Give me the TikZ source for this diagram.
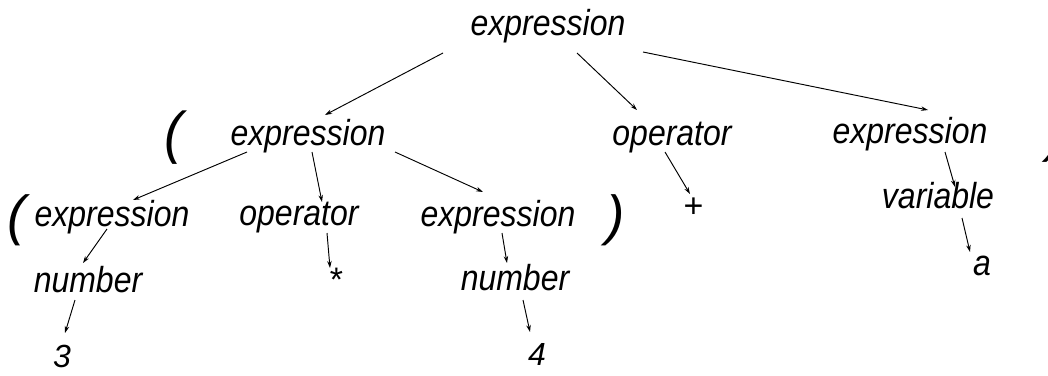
\documentclass[tikz,border=0pt]{standalone}
\usepackage{fontspec}
\usepackage{graphicx}
\setmainfont{Liberation Sans}
\usetikzlibrary{arrows.meta}
\newcommand\tallt[1]{\scalebox{1}[1.13]{#1}}
\tikzset{
  lbl/.style={inner sep=0pt, anchor=base, font=\fontsize{32}{38}\selectfont\itshape},
  sym/.style={inner sep=0pt, anchor=center, font=\fontsize{34}{40}\selectfont\itshape},
  par/.style={inner sep=0pt, anchor=center, font=\fontsize{50}{56}\selectfont\itshape},
  arr/.style={-{Stealth[length=7pt,width=4.5pt]}, line width=0.95pt}
}
\begin{document}
\begin{tikzpicture}[x=1pt,y=-1pt]
\useasboundingbox (0,0) rectangle (1048,375);
% nodes
\node[lbl] (top) at (548,35) {\tallt{expression}};
\node[lbl] (midL) at (308,145) {\tallt{expression}};
\node[lbl] (midOp) at (672,145) {\tallt{operator}};
\node[lbl] (rightE) at (910,143) {\tallt{expression}};
\node[lbl] (lowL) at (112,226) {\tallt{expression}};
\node[lbl] (lowOp) at (299,225) {\tallt{operator}};
\node[lbl] (lowR) at (498,226) {\tallt{expression}};
\node[lbl] (numL) at (88,292) {\tallt{number}};
\node[lbl] (numR) at (515,290) {\tallt{number}};
\node[sym] (star) at (335,280) {*};
\node[sym] (plus) at (693,208) {+};
\node[lbl] (three) at (62,367) {3};
\node[lbl] (four) at (537,365) {4};
\node[lbl] (var) at (938,208) {\tallt{variable}};
\node[lbl] (a) at (982,275) {\tallt{a}};
% parentheses
\node[par] (lpA) at (174,138) {\scalebox{1.1}[1.15]{(}};
\node[par] (lpB) at (17,220) {\scalebox{1.1}[1.1]{(}};
\node[par] (rpB) at (616,220) {\scalebox{1.1}[1.1]{)}};
\node[par] (rpA) at (1057,136) {\scalebox{1.1}[1.15]{)}};
% connectors
\draw[arr] ([xshift=-105pt,yshift=-18pt]top.base) -- ([xshift=17pt,yshift=30pt]midL.base);
\draw[arr] ([xshift=29pt,yshift=-18pt]top.base) -- ([xshift=-35pt,yshift=35pt]midOp.base);
\draw[arr] ([xshift=95pt,yshift=-17pt]top.base) -- ([xshift=18pt,yshift=33pt]rightE.base);
\draw[arr] ([xshift=-61pt,yshift=-7pt]midL.base) -- ([xshift=21pt,yshift=26pt]lowL.base);
\draw[arr] ([xshift=4pt,yshift=-7pt]midL.base) -- ([xshift=23pt,yshift=23pt]lowOp.base);
\draw[arr] ([xshift=87pt,yshift=-7pt]midL.base) -- ([xshift=-15pt,yshift=34pt]lowR.base);
\draw[arr] ([xshift=-5pt,yshift=-3pt]lowL.base) -- ([xshift=-5pt,yshift=29pt]numL.base);
\draw[arr] ([xshift=-13pt,yshift=-8pt]numL.base) -- ([xshift=3pt,yshift=34pt]three.base);
\draw[arr] ([xshift=28pt,yshift=-8pt]lowOp.base) -- ([xshift=-5pt,yshift=12pt]star.center);
\draw[arr] ([xshift=4pt,yshift=-7pt]lowR.base) -- ([xshift=-8pt,yshift=27pt]numR.base);
\draw[arr] ([xshift=8pt,yshift=-10pt]numR.base) -- ([xshift=-7pt,yshift=33pt]four.base);
\draw[arr] ([xshift=-7pt,yshift=-7pt]midOp.base) -- ([xshift=-3pt,yshift=14pt]plus.center);
\draw[arr] ([xshift=35pt,yshift=-9pt]rightE.base) -- ([xshift=17pt,yshift=21pt]var.base);
\draw[arr] ([xshift=24pt,yshift=-10pt]var.base) -- ([xshift=-12pt,yshift=23pt]a.base);
\end{tikzpicture}
\end{document}
